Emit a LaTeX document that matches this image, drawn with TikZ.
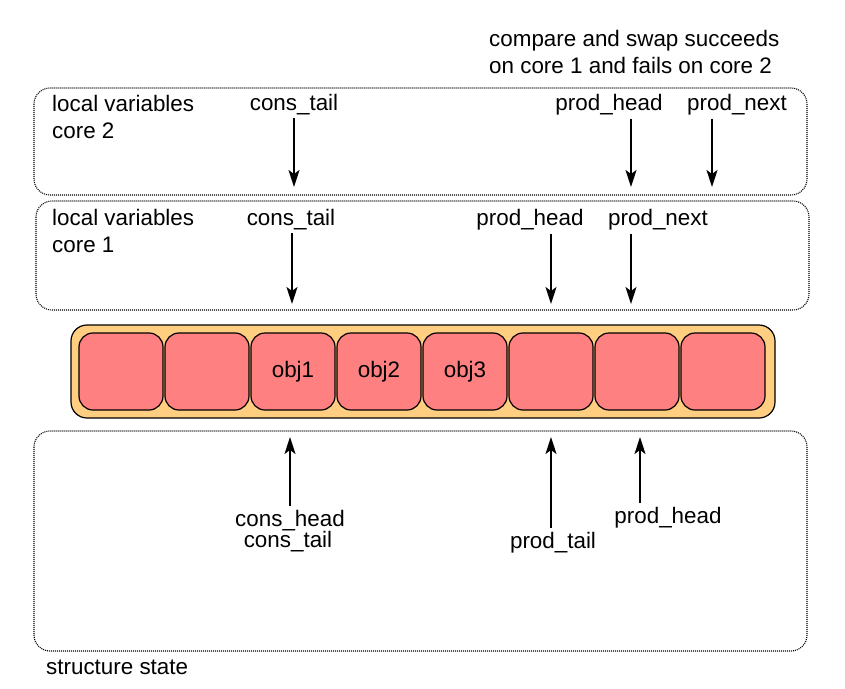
\documentclass[tikz,border=0pt]{standalone}
\usepackage{fontspec}
\setmainfont{Liberation Sans}
\usepackage{xcolor}
\usetikzlibrary{arrows.meta}

\definecolor{ringorange}{RGB}{255,206,128}
\definecolor{slotred}{RGB}{255,128,128}

\begin{document}
\begin{tikzpicture}[
x=1pt,y=-1pt,
every node/.style={font=\fontsize{22.4}{27}\selectfont,inner sep=0pt},
statebox/.style={
draw,dash pattern=on 1pt off 1pt,line width=1.1pt,
rounded corners=16pt
},
slot/.style={
rectangle,draw,line width=1.2pt,rounded corners=14pt,
fill=slotred,minimum width=84pt,minimum height=77pt
},
lbl/.style={outer sep=4pt},
ptr/.style={-{Stealth[length=17pt,width=11pt,inset=4pt]},line width=1.5pt}
]
\useasboundingbox (0,0) rectangle (845,688);

% dotted frames
\draw[statebox] (34,88) rectangle (807,195);
\draw[statebox] (36,201) rectangle (809,310);
\draw[statebox] (34,431) rectangle (807,651);

% base of a two-line node is its last line
\node[anchor=base west,align=left] (core2) at (52,138) {local variables\\core 2};
\node[anchor=base west,align=left] (core1) at (52,252) {local variables\\core 1};
\node[anchor=base west] (state) at (46,674) {structure state};
\node[anchor=base west,align=left] (cas) at (489,73) {compare and swap succeeds\\on core 1 and fails on core 2};

% ring
\draw[line width=1.2pt,rounded corners=16pt,fill=ringorange] (71,325) rectangle (775,418);
\foreach \i/\txt in {1/,2/,3/obj1,4/obj2,5/obj3,6/,7/,8/}
  \node[slot] (s\i) at ({121+86*(\i-1)},371.5) {\txt};

% core 2 pointers
\coordinate (c2ct) at (294,187);
\coordinate (c2ph) at (631,187);
\coordinate (c2pn) at (712,187);
\node[lbl,anchor=base] (l2ct) at (294,110) {cons\_tail};
\node[lbl,anchor=base] (l2ph) at (609,110) {prod\_head};
\node[lbl,anchor=base] (l2pn) at (737,110) {prod\_next};
\draw[ptr] (c2ct |- l2ct.south) -- (c2ct);
\draw[ptr] (c2ph |- l2ph.south) -- (c2ph);
\draw[ptr] (c2pn |- l2pn.south) -- (c2pn);

% core 1 pointers
\coordinate (c1ct) at (292,304);
\coordinate (c1ph) at (551,304);
\coordinate (c1pn) at (631,304);
\node[lbl,anchor=base] (l1ct) at (291,225) {cons\_tail};
\node[lbl,anchor=base] (l1ph) at (530,225) {prod\_head};
\node[lbl,anchor=base] (l1pn) at (658,225) {prod\_next};
\draw[ptr] (c1ct |- l1ct.south) -- (c1ct);
\draw[ptr] (c1ph |- l1ph.south) -- (c1ph);
\draw[ptr] (c1pn |- l1pn.south) -- (c1pn);

% structure state pointers
\coordinate (sch) at (290,437);
\coordinate (spt) at (551,437);
\coordinate (sph) at (640,437);
\node[lbl,anchor=base,align=center] (lsch) at (288,547) {\hspace*{4pt}cons\_head\\[-6pt]cons\_tail};
\node[lbl,anchor=base] (lspt) at (553,548) {prod\_tail};
\node[lbl,anchor=base] (lsph) at (668,523) {prod\_head};
\draw[ptr] (sch |- lsch.north) -- (sch);
\draw[ptr] (spt |- lspt.north) -- (spt);
\draw[ptr] (sph |- lsph.north) -- (sph);

\end{tikzpicture}
\end{document}
